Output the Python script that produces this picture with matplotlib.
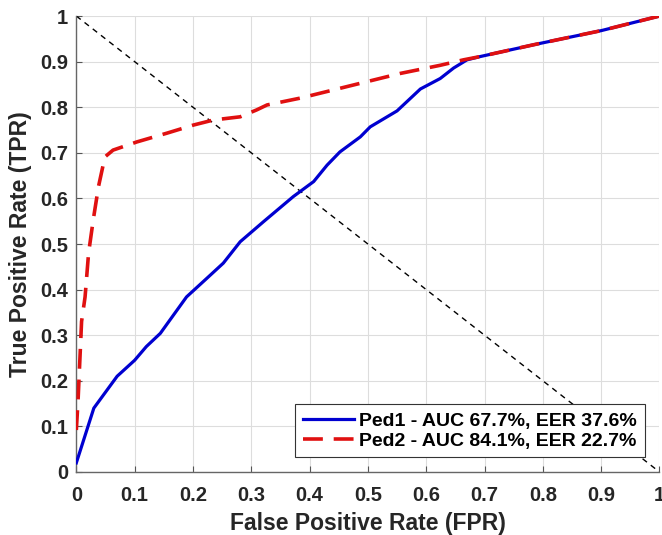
import matplotlib
matplotlib.use('Agg')
import matplotlib.pyplot as plt

# ROC curves
ped1_fpr = [0.0, 0.03, 0.07, 0.10, 0.12, 0.144, 0.189, 0.224, 0.252, 0.281, 0.321,
            0.372, 0.407, 0.43, 0.452, 0.487, 0.504, 0.55, 0.59, 0.624, 0.647,
            0.67, 0.692, 0.784, 0.9, 1.0]
ped1_tpr = [0.02, 0.14, 0.21, 0.245, 0.275, 0.304, 0.384, 0.425, 0.458, 0.505, 0.549,
            0.604, 0.637, 0.673, 0.702, 0.735, 0.757, 0.792, 0.84, 0.863, 0.886,
            0.904, 0.911, 0.937, 0.968, 1.0]

ped2_fpr = [0.0, 0.003, 0.009, 0.015, 0.021, 0.029, 0.038, 0.049, 0.063, 0.104,
            0.155, 0.201, 0.235, 0.281, 0.309, 0.327, 0.384, 0.441, 0.498, 0.555,
            0.624, 0.664, 0.692, 0.784, 0.9, 1.0]
ped2_tpr = [0.092, 0.158, 0.33, 0.384, 0.48, 0.553, 0.626, 0.691, 0.706, 0.724,
            0.743, 0.761, 0.772, 0.779, 0.794, 0.805, 0.82, 0.838, 0.856, 0.874,
            0.892, 0.904, 0.911, 0.937, 0.968, 1.0]

labels = ['Ped1 - AUC 67.7%, EER 37.6%', 'Ped2 - AUC 84.1%, EER 22.7%']
ticks = [0, 0.1, 0.2, 0.3, 0.4, 0.5, 0.6, 0.7, 0.8, 0.9, 1]
tick_labels = ['0', '0.1', '0.2', '0.3', '0.4', '0.5', '0.6', '0.7', '0.8', '0.9', '1']

plt.rcParams['font.family'] = ['Liberation Sans', 'DejaVu Sans']
plt.rcParams['font.weight'] = 'bold'
txt = '#262626'

fig = plt.figure(figsize=(6.62, 5.35), dpi=100)
ax = fig.add_axes([0.1153, 0.1178, 0.8809, 0.8522])

ax.plot([0, 1], [1, 0], color='black', lw=1.0, dashes=(4, 3.5), zorder=2)
ax.plot(ped1_fpr, ped1_tpr, color='#0000d0', lw=2.3, label=labels[0], zorder=3)
ax.plot(ped2_fpr, ped2_tpr, color='#e01010', lw=2.6, dashes=(5.5, 3), label=labels[1], zorder=4)

ax.set_xlim(0, 1)
ax.set_ylim(0, 1)
ax.set_xticks(ticks)
ax.set_xticklabels(tick_labels)
ax.set_yticks(ticks)
ax.set_yticklabels(tick_labels)
ax.tick_params(direction='in', length=4, width=0.8, color='#555555', labelsize=14.5,
               labelcolor=txt)
ax.tick_params(axis='x', pad=10)
ax.tick_params(axis='y', pad=6)
ax.grid(True, color='#dddddd', lw=0.8)
ax.set_axisbelow(True)
for s in ['top', 'right']:
    ax.spines[s].set_visible(False)
for s in ['left', 'bottom']:
    ax.spines[s].set_color('#666666')
    ax.spines[s].set_linewidth(1.0)

ax.set_xlabel('False Positive Rate (FPR)', fontsize=16.5, fontweight='bold', color=txt, labelpad=5)
ax.set_ylabel('True Positive Rate (TPR)', fontsize=16.5, fontweight='bold', color=txt, labelpad=6)

leg = ax.legend(loc='lower right', fontsize=14, fancybox=False, framealpha=1,
                edgecolor='#333333', handlelength=2.6, borderaxespad=0.75,
                labelspacing=0.12, borderpad=0.4, handletextpad=0.3)
leg.get_frame().set_linewidth(0.8)
leg.set_zorder(10)

fig.savefig('out.png', dpi=100)
